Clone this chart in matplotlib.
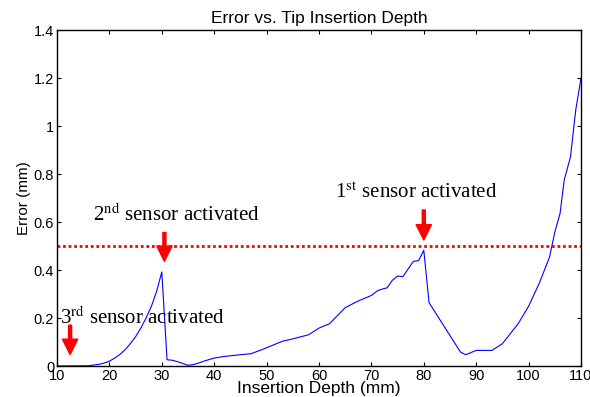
import matplotlib
matplotlib.use("Agg")
import matplotlib.pyplot as plt

# data
depth = [10, 16, 18, 19, 20, 21, 22, 23, 24, 25, 26, 27, 28, 29, 30, 31, 32, 33, 35, 36,
         37, 38, 40, 42, 45, 47, 49, 51, 53, 55, 58, 60, 62, 64.5, 65, 67.4, 70, 71.2,
         72, 73, 74, 75, 76, 78, 79, 80, 81, 87, 88, 90, 93, 95, 98, 100, 102, 104,
         105, 106, 106.8, 108, 109, 110]
error = [0, 0.001, 0.007, 0.012, 0.02, 0.033, 0.048, 0.068, 0.093, 0.122, 0.158, 0.2,
         0.248, 0.31, 0.392, 0.026, 0.024, 0.018, 0.003, 0.006, 0.012, 0.02, 0.033,
         0.04, 0.047, 0.051, 0.067, 0.085, 0.103, 0.113, 0.13, 0.158, 0.176, 0.232,
         0.243, 0.27, 0.294, 0.314, 0.32, 0.326, 0.357, 0.375, 0.372, 0.436, 0.439,
         0.482, 0.264, 0.058, 0.047, 0.065, 0.065, 0.093, 0.176, 0.249, 0.343, 0.454,
         0.558, 0.635, 0.775, 0.872, 1.067, 1.199]
threshold = 0.5

# annotations: label, text pos, arrow tail, arrow tip
labels = [r"1$^{\mathrm{st}}$ sensor activated", r"2$^{\mathrm{nd}}$ sensor activated",
          r"3$^{\mathrm{rd}}$ sensor activated"]
label_pos = [(63.1, 0.72), (16.8, 0.63), (10.6, 0.2)]
arrow_x = [80, 30.5, 12.5]
arrow_top = [0.65, 0.556, 0.17]
arrow_tip = [0.525, 0.436, 0.048]

plt.rcParams['font.family'] = ['Liberation Sans', 'DejaVu Sans']
plt.rcParams['mathtext.fontset'] = 'stix'

fig = plt.figure(figsize=(5.9, 3.97), dpi=100)
ax = fig.add_axes([57/590, 1-366/397, 524/590, 336/397])

ax.plot(depth, error, color='blue', lw=0.8)
ax.axhline(threshold, color='red', lw=2, ls=(0, (1, 1)))

for lab, pos, ax_x, top, tip in zip(labels, label_pos, arrow_x, arrow_top, arrow_tip):
    ax.text(pos[0], pos[1], lab, fontsize=15, family='Liberation Serif',
            va='center', ha='left')
    ax.annotate('', xy=(ax_x, tip), xytext=(ax_x, top),
                arrowprops=dict(facecolor='red', edgecolor='red', width=2.2,
                                headwidth=11, headlength=11, shrink=0))

ax.set_xlim(10, 110)
ax.set_ylim(0, 1.4)
ax.set_xticks(range(10, 111, 10))
ax.set_yticks([0, 0.2, 0.4, 0.6, 0.8, 1, 1.2, 1.4])
ax.set_yticklabels(['0', '0.2', '0.4', '0.6', '0.8', '1', '1.2', '1.4'])
ax.tick_params(direction='in', top=True, right=True, labelsize=10.5, length=3, pad=2)
for s in ax.spines.values():
    s.set_linewidth(1)

ax.set_title("Error vs. Tip Insertion Depth", fontsize=12.5, pad=5)
ax.set_xlabel("Insertion Depth (mm)", fontsize=12.5, labelpad=-1)
ax.set_ylabel("Error (mm)", fontsize=11, labelpad=2)

fig.savefig("out.png", dpi=100)
